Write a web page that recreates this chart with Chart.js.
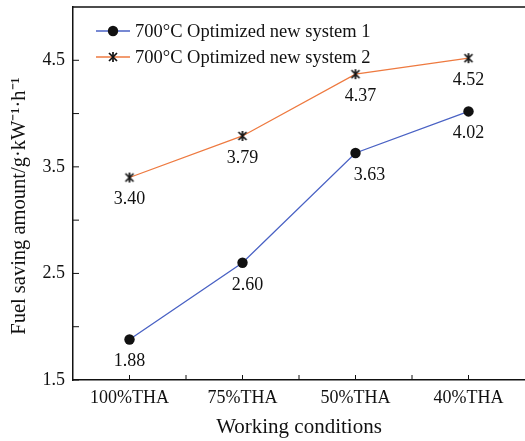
<!DOCTYPE html>
<html>
<head>
<meta charset="utf-8">
<script src="https://cdn.jsdelivr.net/npm/chart.js@4/dist/chart.umd.min.js"></script>
<style>
  html, body { margin: 0; padding: 0; background: #fff; }
  #wrap { width: 525px; height: 441px; }
</style>
</head>
<body>
<div id="wrap"><canvas id="fuelChart"></canvas></div>
<script>
// data
const conditions = ['100%THA', '75%THA', '50%THA', '40%THA'];
const system1 = [1.88, 2.60, 3.63, 4.02];
const system2 = [3.40, 3.79, 4.37, 4.52];
const yTicks = [1.5, 2.5, 3.5, 4.5];
const yMinorTicks = [2.0, 3.0, 4.0];
const seriesNames = ['700°C Optimized new system 1', '700°C Optimized new system 2'];
const yTitle = 'Fuel saving amount/g·kW⁻¹·h⁻¹';
const xTitle = 'Working conditions';

const FONT = '"Liberation Serif", "Times New Roman", serif';

// six armed asterisk marker
function asteriskMarker() {
    const c = document.createElement('canvas');
    c.width = 12; c.height = 12;
    const g = c.getContext('2d');
    g.strokeStyle = '#111';
    g.lineWidth = 1.7;
    g.beginPath();
    g.moveTo(2, 2); g.lineTo(10, 10);
    g.moveTo(10, 2); g.lineTo(2, 10);
    g.moveTo(6, 1); g.lineTo(6, 4.5);
    g.moveTo(6, 7.5); g.lineTo(6, 11);
    g.stroke();
    return c;
}
const starImg = asteriskMarker();

function noPadding(scale) {
    scale.paddingLeft = 0;
    scale.paddingRight = 0;
    scale.paddingTop = 0;
    scale.paddingBottom = 0;
}

const framePlugin = {
    id: 'frame',
    afterDraw(chart) {
        const ctx = chart.ctx;
        const a = chart.chartArea;
        const x = chart.scales.x, y = chart.scales.y;
        ctx.save();
        ctx.strokeStyle = '#111';
        ctx.lineWidth = 1.5;
        // top frame line
        ctx.beginPath();
        ctx.moveTo(a.left, a.top);
        ctx.lineTo(a.right, a.top);
        ctx.stroke();
        // inward ticks on x
        ctx.lineWidth = 1;
        ctx.beginPath();
        const half = (x.getPixelForValue(1) - x.getPixelForValue(0)) / 2;
        conditions.forEach((c, i) => {
            const px = x.getPixelForValue(i);
            [px, px + half].forEach(p => {
                if (p < a.right - 2) {
                    ctx.moveTo(p, a.bottom);
                    ctx.lineTo(p, a.bottom - 5);
                }
            });
        });
        // inward ticks on y
        yTicks.concat(yMinorTicks).forEach(v => {
            const py = y.getPixelForValue(v);
            ctx.moveTo(a.left, py);
            ctx.lineTo(a.left + 6, py);
        });
        ctx.stroke();

        ctx.fillStyle = '#111';
        ctx.textAlign = 'center';
        ctx.textBaseline = 'middle';

        // axis titles
        ctx.font = '21px ' + FONT;
        ctx.fillText(xTitle, (a.left + a.right) / 2, 427);
        ctx.save();
        ctx.translate(20, 206);
        ctx.rotate(-Math.PI / 2);
        ctx.font = '20.5px ' + FONT;
        ctx.fillText(yTitle, 0, 0);
        ctx.restore();

        // value labels under the points
        const shift = [[0, 5, 14, 0], [0, 0, 5, 0]];
        ctx.font = '18px ' + FONT;
        chart.data.datasets.forEach((ds, d) => {
            chart.getDatasetMeta(d).data.forEach((pt, i) => {
                ctx.fillText(ds.data[i].toFixed(2), pt.x + shift[d][i], pt.y + 22);
            });
        });

        // legend inside plot area
        chart.data.datasets.forEach((ds, d) => {
            const ly = 31 + d * 26;
            ctx.strokeStyle = ds.borderColor;
            ctx.lineWidth = 1.3;
            ctx.beginPath();
            ctx.moveTo(96, ly);
            ctx.lineTo(130, ly);
            ctx.stroke();
            if (d === 0) {
                ctx.fillStyle = '#111';
                ctx.beginPath();
                ctx.arc(113, ly, 5.2, 0, Math.PI * 2);
                ctx.fill();
            } else {
                ctx.drawImage(starImg, 107, ly - 6);
            }
            ctx.fillStyle = '#111';
            ctx.textAlign = 'left';
            ctx.font = '18.5px ' + FONT;
            ctx.fillText(ds.label, 135, ly + 1);
        });
        ctx.restore();
    }
};

new Chart(document.getElementById('fuelChart'), {
    type: 'line',
    data: {
        labels: conditions,
        datasets: [{
            label: seriesNames[0],
            data: system1,
            borderColor: '#4a62c4',
            borderWidth: 1.3,
            pointStyle: 'circle',
            pointRadius: 5.2,
            pointBackgroundColor: '#111',
            pointBorderColor: '#111',
            pointBorderWidth: 0
        }, {
            label: seriesNames[1],
            data: system2,
            borderColor: '#ee7a40',
            borderWidth: 1.3,
            pointStyle: starImg,
            pointRadius: 6
        }]
    },
    options: {
        responsive: true,
        maintainAspectRatio: false,
        animation: false,
        layout: { autoPadding: false, padding: { top: 7, right: 0, left: 0, bottom: 0 } },
        plugins: {
            legend: { display: false },
            tooltip: { enabled: false }
        },
        scales: {
            x: {
                type: 'category',
                offset: true,
                grid: { display: false, drawTicks: false },
                border: { color: '#111', width: 1.5 },
                ticks: {
                    color: '#111',
                    padding: 7,
                    maxRotation: 0,
                    font: { family: FONT, size: 18 }
                },
                afterFit(scale) {
                    scale.height = 61;
                    noPadding(scale);
                }
            },
            y: {
                min: 1.5,
                max: 5.0,
                grid: { display: false, drawTicks: false },
                border: { color: '#111', width: 1.5 },
                afterBuildTicks(scale) { scale.ticks = yTicks.map(v => ({ value: v })); },
                ticks: {
                    color: '#111',
                    padding: 8,
                    font: { family: FONT, size: 18 },
                    callback: v => v.toFixed(1)
                },
                afterFit(scale) {
                    scale.width = 73;
                    noPadding(scale);
                }
            }
        }
    },
    plugins: [framePlugin]
});
</script>
</body>
</html>
